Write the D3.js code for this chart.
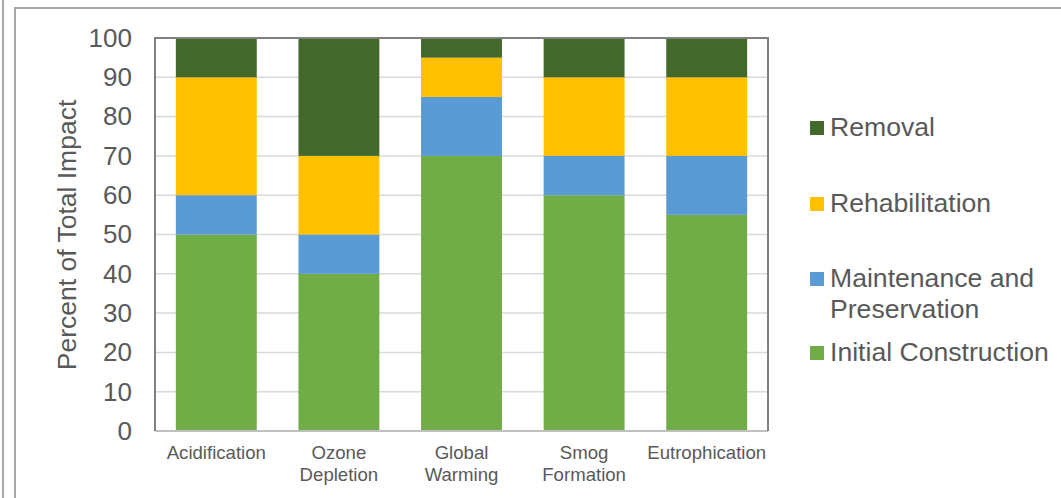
<!DOCTYPE html>
<html><head><meta charset="utf-8">
<script src="https://cdn.jsdelivr.net/npm/d3@7"></script>
<style>body{margin:0;background:#fff}svg{display:block}text{font-family:"Liberation Sans",Arial,sans-serif;fill:#595959}</style>
</head><body><svg id="c" width="1061" height="498"></svg>
<script>
const categories = [["Acidification"],["Ozone","Depletion"],["Global","Warming"],["Smog","Formation"],["Eutrophication"]];
const seriesNames = ["Initial Construction","Maintenance and Preservation","Rehabilitation","Removal"];
const initialConstruction = [50,40,70,60,55];
const maintenance = [10,10,15,10,15];
const rehabilitation = [30,20,10,20,20];
const removal = [10,30,5,10,10];
const yTicks = [0,10,20,30,40,50,60,70,80,90,100];
const colors = ["#70AD47","#5B9BD5","#FFC000","#43682B"];

const svg = d3.select("#c");
// outer frame lines
svg.append("line").attr("x1",3).attr("x2",3).attr("y1",0).attr("y2",498).attr("stroke","#a6a6a6").attr("stroke-width",2);
svg.append("path").attr("d","M15,498V8H1061").attr("fill","none").attr("stroke","#a6a6a6").attr("stroke-width",2);

const L=155,R=768,T=38,B=431;
const x = d3.scaleBand().domain(d3.range(categories.length)).range([L,R]).paddingInner(0.34).paddingOuter(0.17);
const y = d3.scaleLinear().domain([0,100]).range([B,T]);

const data = categories.map((c,i)=>({i,v:[initialConstruction[i],maintenance[i],rehabilitation[i],removal[i]]}));
const stack = d3.stack().keys([0,1,2,3]).value((d,k)=>d.v[k]);
const series = stack(data);

// gridlines
svg.append("g").selectAll("line").data(yTicks.filter(t=>t>0&&t<100)).join("line")
  .attr("x1",L).attr("x2",R).attr("y1",d=>y(d)).attr("y2",d=>y(d)).attr("stroke","#d9d9d9").attr("stroke-width",1.5);

svg.append("g").selectAll("g").data(series).join("g").attr("fill",(d,k)=>colors[k])
  .selectAll("rect").data(d=>d).join("rect")
  .attr("x",d=>x(d.data.i)).attr("width",x.bandwidth())
  .attr("y",d=>y(d[1])).attr("height",d=>y(d[0])-y(d[1]));

// plot border
svg.append("line").attr("x1",L).attr("x2",R).attr("y1",B).attr("y2",B).attr("stroke","#c0c0c0").attr("stroke-width",2);
svg.append("path").attr("d",`M${L},${B}V${T}H${R}V${B}`).attr("fill","none").attr("stroke","#808080").attr("stroke-width",2);

// y axis
const ya = svg.append("g").attr("transform",`translate(${L},0)`)
  .call(d3.axisLeft(y).tickValues(yTicks).tickSize(0).tickPadding(23));
ya.select(".domain").remove();
ya.selectAll("text").style("font-size","26px").attr("fill","#595959");

svg.append("text").attr("transform","translate(76,235) rotate(-90)").attr("text-anchor","middle")
  .style("font-size","26.5px").text("Percent of Total Impact");

// x axis
const xa = svg.append("g").attr("transform",`translate(0,${B})`)
  .call(d3.axisBottom(x).tickSize(0).tickFormat(""));
xa.select(".domain").remove();
xa.selectAll(".tick").each(function(d){
  const t = d3.select(this).append("text").attr("text-anchor","middle").style("font-size","18.6px").attr("fill","#595959");
  categories[d].forEach((s,j)=>t.append("tspan").attr("x",0).attr("y",28+j*21.5).text(s));
});

// legend
const leg = [
  {k:3,lines:["Removal"],y:128},
  {k:2,lines:["Rehabilitation"],y:204},
  {k:1,lines:["Maintenance and","Preservation"],y:279},
  {k:0,lines:["Initial Construction"],y:353}
];
const lg = svg.append("g");
leg.forEach(l=>{
  lg.append("rect").attr("x",810).attr("y",l.y-7).attr("width",14).attr("height",14).attr("fill",colors[l.k]);
  const t = lg.append("text").style("font-size","26.6px");
  l.lines.forEach((s,j)=>t.append("tspan").attr("x",830).attr("y",l.y+8+j*31).text(s));
});
</script></body></html>
